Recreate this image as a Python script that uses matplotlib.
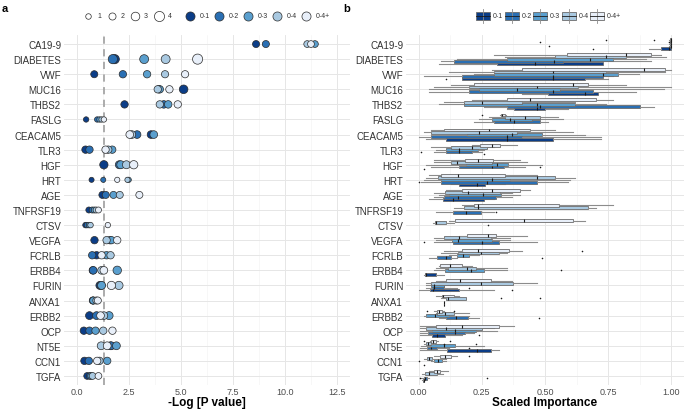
import matplotlib
matplotlib.use("Agg")
import matplotlib.pyplot as plt
from matplotlib.lines import Line2D
from matplotlib.patches import Rectangle
import numpy as np

plt.rcParams['font.family'] = ['Liberation Sans', 'DejaVu Sans']

features = ["CA19-9", "DIABETES", "VWF", "MUC16", "THBS2", "FASLG", "CEACAM5", "TLR3",
            "HGF", "HRT", "AGE", "TNFRSF19", "CTSV", "VEGFA", "FCRLB", "ERBB4", "FURIN",
            "ANXA1", "ERBB2", "OCP", "NT5E", "CCN1", "TGFA"]
groups = ["0-1", "0-2", "0-3", "0-4", "0-4+"]
colors = ["#0b3d87", "#2a6fb3", "#5a9fce", "#a9c9e1", "#e8eff9"]
size_levels = [1, 2, 3, 4]

# ---- panel a: -log10(P) per group ----
logp_01 = [8.6, 1.83, 0.85, 5.13, 2.30, 0.46, 3.57, 0.43, 1.31, 0.72, 1.24, 0.59, 0.43,
           0.86, 0.96, 0.78, 1.12, 0.78, 0.62, 0.35, 1.63, 0.38, 0.51]
logp_02 = [9.07, 1.74, 2.22, 3.95, 4.18, 0.99, 2.90, 0.62, 2.05, 1.28, 1.40, 0.75, 0.50,
           1.60, 0.75, 0.80, 1.18, 0.80, 0.96, 0.62, 1.66, 0.59, 0.64]
logp_03 = [11.42, 3.24, 3.38, 3.99, 4.39, 1.10, 3.70, 1.71, 2.12, 2.50, 1.77, 0.85, 0.60,
           1.67, 1.44, 1.95, 1.20, 0.80, 1.56, 0.91, 1.91, 1.47, 0.70]
logp_04 = [11.05, 4.27, 4.24, 3.89, 3.99, 1.20, 2.65, 1.52, 2.39, 2.44, 2.07, 0.94, 0.67,
           1.44, 1.63, 1.20, 2.03, 0.95, 1.31, 1.28, 1.18, 1.10, 0.77]
logp_04p = [11.23, 5.80, 5.20, 4.45, 4.85, 1.31, 2.55, 1.39, 2.74, 1.95, 3.01, 1.05, 1.50,
            1.95, 1.20, 1.31, 1.67, 1.02, 1.15, 1.72, 1.47, 0.99, 1.05]

size_01 = [2.0, 3.4, 2.0, 3.0, 2.2, 0.9, 2.4, 2.2, 2.8, 0.7, 2.0, 1.3, 1.0, 2.2, 2.2, 2.2,
           2.6, 2.0, 2.5, 2.2, 2.5, 2.2, 1.8]
size_02 = [2.0, 3.4, 2.2, 2.2, 2.3, 0.9, 2.4, 2.2, 2.6, 0.7, 2.0, 1.3, 1.0, 2.2, 2.2, 2.4,
           2.6, 2.0, 2.5, 2.2, 2.5, 2.2, 1.8]
size_03 = [1.8, 3.2, 2.2, 2.2, 2.3, 0.9, 2.4, 2.2, 2.6, 0.8, 2.0, 1.3, 1.0, 2.2, 2.2, 2.9,
           2.6, 2.0, 2.6, 2.2, 2.5, 2.2, 1.8]
size_04 = [1.8, 3.2, 2.1, 2.2, 2.2, 0.9, 2.4, 2.2, 2.6, 0.8, 2.0, 1.3, 1.0, 2.2, 2.2, 2.4,
           2.8, 2.0, 2.4, 2.2, 2.5, 2.2, 1.8]
size_04p = [1.8, 4.0, 2.1, 2.2, 2.2, 0.9, 2.4, 2.2, 2.8, 0.8, 2.0, 1.3, 0.9, 2.2, 2.2, 2.4,
            2.8, 2.0, 2.4, 2.2, 2.5, 2.2, 1.8]

# ---- panel b: scaled importance box stats (whislo, q1, med, q3, whishi) ----
box_01 = [(0.91, 0.96, 0.99, 1.0, 1.0), (0.08, 0.31, 0.46, 0.73, 0.73),
          (0.17, 0.17, 0.53, 0.66, 0.75), (0.41, 0.51, 0.66, 0.71, 0.71),
          (0.35, 0.376, 0.47, 0.50, 0.59), None, (0.03, 0.11, 0.35, 0.53, 0.72), None, None,
          (0.13, 0.16, 0.23, 0.264, 0.34), (0.04, 0.095, 0.135, 0.26, 0.30), None, None, None,
          None, (0.02, 0.026, 0.03, 0.067, 0.10), (0.0, 0.044, 0.057, 0.158, 0.30),
          (0.10, 0.10, 0.10, 0.102, 0.102), None, (0.005, 0.054, 0.073, 0.103, 0.17),
          (0.005, 0.113, 0.232, 0.288, 0.318), None, (0.015, 0.018, 0.02, 0.022, 0.025)]
box_02 = [(0.99, 0.995, 1.0, 1.0, 1.0), (0.09, 0.14, 0.535, 0.57, 0.92),
          (0.02, 0.17, 0.53, 0.73, 0.77), (0.04, 0.20, 0.53, 0.69, 0.86),
          (0.26, 0.35, 0.48, 0.875, 0.93), (0.22, 0.30, 0.377, 0.48, 0.51),
          (0.0, 0.05, 0.35, 0.41, 0.72), (0.06, 0.11, 0.16, 0.21, 0.25),
          (0.05, 0.16, 0.29, 0.336, 0.42), (0.01, 0.09, 0.27, 0.47, 0.59),
          (0.06, 0.10, 0.156, 0.307, 0.37), (0.07, 0.136, 0.186, 0.245, 0.30), None,
          (0.06, 0.136, 0.25, 0.317, 0.47), (0.04, 0.073, 0.11, 0.127, 0.15), None,
          (0.03, 0.053, 0.06, 0.10, 0.15), (0.10, 0.10, 0.10, 0.102, 0.102),
          (0.08, 0.107, 0.146, 0.195, 0.24), (0.005, 0.037, 0.145, 0.182, 0.22),
          (0.005, 0.032, 0.05, 0.074, 0.12), None, (0.01, 0.02, 0.025, 0.033, 0.04)]
box_03 = [(0.99, 0.995, 1.0, 1.0, 1.0), (0.15, 0.35, 0.68, 0.77, 0.90),
          (0.22, 0.30, 0.73, 0.79, 0.87), (0.04, 0.24, 0.39, 0.56, 0.97),
          (0.08, 0.18, 0.47, 0.62, 0.74), (0.24, 0.29, 0.36, 0.45, 0.57),
          (0.05, 0.19, 0.37, 0.49, 0.66), (0.07, 0.11, 0.16, 0.235, 0.26),
          (0.03, 0.186, 0.31, 0.354, 0.49), (0.02, 0.09, 0.29, 0.36, 0.60),
          (0.08, 0.12, 0.255, 0.327, 0.40), None, None,
          (0.07, 0.133, 0.155, 0.29, 0.36), (0.12, 0.153, 0.175, 0.20, 0.24),
          (0.06, 0.103, 0.208, 0.258, 0.35), (0.03, 0.05, 0.06, 0.10, 0.20), None,
          (0.02, 0.028, 0.066, 0.119, 0.20), (0.005, 0.054, 0.142, 0.228, 0.31),
          (0.01, 0.043, 0.10, 0.145, 0.26), (0.05, 0.06, 0.077, 0.092, 0.11), None]
box_04 = [(0.99, 0.995, 1.0, 1.0, 1.0), (0.34, 0.54, 0.74, 0.82, 0.98),
          (0.12, 0.30, 0.53, 0.74, 0.975), (0.06, 0.20, 0.47, 0.63, 1.0),
          (0.10, 0.18, 0.25, 0.41, 0.62), (0.28, 0.34, 0.42, 0.48, 0.55),
          (0.02, 0.05, 0.24, 0.39, 0.61), (0.05, 0.13, 0.21, 0.27, 0.30),
          (0.06, 0.13, 0.15, 0.29, 0.43), (0.03, 0.077, 0.47, 0.54, 0.62),
          (0.06, 0.105, 0.195, 0.32, 0.37), (0.14, 0.18, 0.235, 0.67, 0.70),
          (0.055, 0.063, 0.068, 0.11, 0.14), (0.06, 0.10, 0.16, 0.285, 0.36),
          (0.09, 0.155, 0.248, 0.317, 0.35), (0.07, 0.116, 0.19, 0.228, 0.35),
          (0.03, 0.05, 0.245, 0.373, 0.47), (0.09, 0.11, 0.116, 0.186, 0.186),
          (0.07, 0.073, 0.103, 0.139, 0.20), (0.005, 0.028, 0.107, 0.252, 0.30),
          (0.02, 0.028, 0.037, 0.047, 0.06), (0.02, 0.033, 0.04, 0.053, 0.11),
          (0.013, 0.026, 0.04, 0.073, 0.097)]
box_04p = [(0.99, 0.995, 1.0, 1.0, 1.0), (0.30, 0.587, 0.82, 0.92, 0.96),
           (0.29, 0.41, 0.89, 0.976, 1.0), (0.13, 0.22, 0.61, 0.67, 0.82),
           (0.21, 0.35, 0.44, 0.70, 0.77), (0.32, 0.325, 0.33, 0.34, 0.345),
           (0.05, 0.10, 0.28, 0.44, 0.54), (0.21, 0.244, 0.29, 0.323, 0.39),
           (0.06, 0.185, 0.235, 0.294, 0.40), (0.04, 0.09, 0.156, 0.34, 0.47),
           (0.11, 0.17, 0.29, 0.40, 0.44), (0.17, 0.22, 0.235, 0.555, 0.77),
           (0.12, 0.142, 0.417, 0.61, 0.66), (0.16, 0.19, 0.274, 0.307, 0.43),
           (0.10, 0.17, 0.235, 0.357, 0.41), (0.08, 0.086, 0.125, 0.17, 0.21),
           (0.07, 0.11, 0.162, 0.285, 0.37), (0.07, 0.092, 0.096, 0.139, 0.16),
           (0.06, 0.073, 0.08, 0.094, 0.10), (0.005, 0.07, 0.171, 0.317, 0.376),
           (0.045, 0.05, 0.058, 0.07, 0.075), (0.06, 0.083, 0.103, 0.13, 0.15),
           (0.04, 0.06, 0.073, 0.086, 0.115)]

fliers_01 = {"CA19-9": [0.69], "VWF": [0.11], "TLR3": [0.26], "HGF": [0.02],
             "FURIN": [0.37], "OCP": [0.24], "CCN1": [0.02]}
fliers_02 = {"CA19-9": [0.515], "TLR3": [0.01], "HGF": [0.48], "HRT": [0.0],
             "TNFRSF19": [0.307], "VEGFA": [0.02], "FCRLB": [0.49], "FURIN": [0.2],
             "ERBB2": [0.476], "NT5E": [0.2], "TGFA": [0.004, 0.27]}
fliers_03 = {"CTSV": [0.274], "ERBB4": [0.565], "CCN1": [0.0]}
fliers_04 = {"CA19-9": [0.48, 0.99], "ANXA1": [0.327, 0.48], "NT5E": [0.10, 0.228]}
fliers_04p = {"CA19-9": [0.74, 0.93], "FASLG": [0.25], "FCRLB": [0.648],
              "ERBB2": [0.034, 0.14], "NT5E": [0.02, 0.123], "CCN1": [0.2]}

logp_all = [logp_01, logp_02, logp_03, logp_04, logp_04p]
size_all = [size_01, size_02, size_03, size_04, size_04p]
box_all = [box_01, box_02, box_03, box_04, box_04p]
fliers_all = [fliers_01, fliers_02, fliers_03, fliers_04, fliers_04p]

W, H = 685, 410
fig = plt.figure(figsize=(W / 100, H / 100), dpi=100)

def fx(px):
    return px / W

def fy(py):
    return 1 - py / H

def msize(v):
    return (2.9 + 1.1 * v) ** 2

ypos = np.arange(len(features))
grid_major = "#e6e6e6"
grid_minor = "#f2f2f2"
txt = "#333333"
tick_txt = "#4d4d4d"
AX_TOP, AX_BOT = 36, 386

def style(ax):
    for s in ax.spines.values():
        s.set_visible(False)
    ax.tick_params(axis="both", which="both", length=0)
    ax.tick_params(axis="y", labelsize=7, labelcolor=txt, pad=2)
    ax.tick_params(axis="x", labelsize=6.5, labelcolor=tick_txt, pad=1.5)
    ax.set_axisbelow(True)
    ax.grid(which="major", color=grid_major, lw=0.7)
    ax.grid(which="minor", axis="x", color=grid_minor, lw=0.4)
    ax.set_yticks(ypos)
    ax.set_yticklabels(features)
    ax.set_ylim(len(features) - 0.4, -0.6)

# ---------------- panel a ----------------
axA = fig.add_axes([fx(64), fy(AX_BOT), fx(350 - 64), (AX_BOT - AX_TOP) / H])
style(axA)
axA.axvline(-np.log10(0.05), color="#a6a6a6", ls=(0, (4, 3)), lw=1.3, zorder=1)
for g in range(len(groups)):
    axA.scatter(logp_all[g], ypos, s=[msize(v) for v in size_all[g]],
                c=colors[g], edgecolors="#2b2b2b", linewidths=0.5, zorder=3 + g)
axA.set_xlim(-0.6, 13.1)
axA.set_xticks([0, 2.5, 5, 7.5, 10, 12.5])
axA.set_xticklabels(["0.0", "2.5", "5.0", "7.5", "10.0", "12.5"])
axA.set_xticks([1.25, 3.75, 6.25, 8.75, 11.25], minor=True)
axA.set_xlabel("-Log [P value]", fontsize=8.5, fontweight="bold", labelpad=0)

# ---------------- panel b ----------------
axB = fig.add_axes([fx(406), fy(AX_BOT), fx(684 - 406), (AX_BOT - AX_TOP) / H])
style(axB)
offsets = [0.3, 0.15, 0.0, -0.15, -0.3]
for g in range(len(groups)):
    stats, pos = [], []
    for i, b in enumerate(box_all[g]):
        if b is None:
            continue
        lo, q1, med, q3, hi = b
        stats.append(dict(whislo=lo, q1=q1, med=med, q3=q3, whishi=hi, fliers=[]))
        pos.append(i + offsets[g])
    axB.bxp(stats, positions=pos, widths=0.19, orientation="horizontal",
            patch_artist=True, showfliers=False, showcaps=False,
            boxprops=dict(facecolor=colors[g], edgecolor="#6b6b6b", lw=0.6),
            whiskerprops=dict(color="#8c8c8c", lw=0.8),
            medianprops=dict(color="#1a1a1a", lw=0.8), manage_ticks=False)
    fx_vals, fy_vals = [], []
    for name, vals in fliers_all[g].items():
        i = features.index(name)
        for v in vals:
            fx_vals.append(v)
            fy_vals.append(i + offsets[g])
    axB.scatter(fx_vals, fy_vals, s=1.3, c="#1a1a1a", zorder=5, linewidths=0)
axB.set_xlim(-0.05, 1.05)
axB.set_xticks([0, 0.25, 0.5, 0.75, 1.0])
axB.set_xticklabels(["0.00", "0.25", "0.50", "0.75", "1.00"])
axB.set_xticks([0.125, 0.375, 0.625, 0.875], minor=True)
axB.set_xlabel("Scaled Importance", fontsize=8.5, fontweight="bold", labelpad=0)

# ---------------- panel letters ----------------
fig.text(fx(2), fy(9), "a", fontsize=8, fontweight="bold", va="center")
fig.text(fx(343), fy(9), "b", fontsize=8, fontweight="bold", va="center")

# ---------------- legends ----------------
leg_y = fy(17)
size_x = [88, 112, 135, 159]
for k, lv in enumerate(size_levels):
    fig.add_artist(Line2D([fx(size_x[k])], [leg_y], marker="o", ls="none",
                          markersize=np.sqrt(msize(lv)), markerfacecolor="white",
                          markeredgecolor="#2b2b2b", markeredgewidth=0.5,
                          transform=fig.transFigure))
    fig.text(fx(size_x[k] + 9), leg_y, str(lv), fontsize=5, color=txt, va="center")
col_x = [190, 219, 248, 277, 306]
for g in range(len(groups)):
    fig.add_artist(Line2D([fx(col_x[g])], [leg_y], marker="o", ls="none",
                          markersize=np.sqrt(msize(3.3)), markerfacecolor=colors[g],
                          markeredgecolor="#2b2b2b", markeredgewidth=0.5,
                          transform=fig.transFigure))
    fig.text(fx(col_x[g] + 10), leg_y, groups[g], fontsize=5, color=txt, va="center")

box_x = [483, 512, 540, 569, 597]
for g in range(len(groups)):
    cx = box_x[g]
    fig.add_artist(Line2D([fx(cx), fx(cx)], [fy(10), fy(24)], color="#8c8c8c", lw=0.6,
                          transform=fig.transFigure))
    fig.add_artist(Rectangle((fx(cx - 7), fy(21)), fx(14), 8 / H, facecolor=colors[g],
                             edgecolor="#6b6b6b", lw=0.6, transform=fig.transFigure))
    fig.add_artist(Line2D([fx(cx - 7), fx(cx + 7)], [leg_y, leg_y], color="#1a1a1a",
                          lw=0.6, transform=fig.transFigure))
    fig.text(fx(cx + 10), leg_y, groups[g], fontsize=5, color=txt, va="center")

fig.savefig("out.png", dpi=100)
